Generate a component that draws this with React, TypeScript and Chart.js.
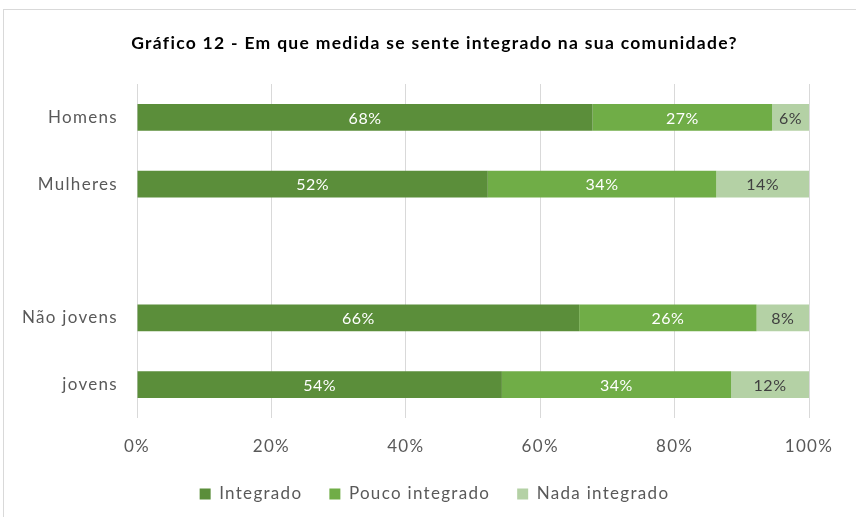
import React, { useEffect, useRef } from "react";
import { Chart, registerables } from "chart.js";

Chart.register(...registerables);

const TITLE = "Gráfico 12 - Em que medida se sente integrado na sua comunidade?";
const categories = ["Homens", "Mulheres", "", "Não jovens", "jovens"];
const integrado = [67.8, 52.2, null, 65.8, 54.3];
const poucoIntegrado = [26.7, 34.0, null, 26.4, 34.1];
const nadaIntegrado = [5.5, 13.8, null, 7.8, 11.6];
const seriesNames = ["Integrado", "Pouco integrado", "Nada integrado"];
const seriesColors = ["#5B8E3A", "#70AD47", "#B4D1A5"];
const labelColors = ["#FFFFFF", "#FFFFFF", "#404040"];
const xTicks = [0, 20, 40, 60, 80, 100];

const FONT = "Lato, 'Open Sans', sans-serif";
const SPACING = "1.3px";
const HEADER_OFFSET = 60;

const spacingPlugin = {
  id: "letterSpacing",
  beforeLayout(chart: any) {
    (chart.ctx as any).letterSpacing = SPACING;
  },
  afterLayout(chart: any) {
    // centre title and legend like the original (shifted right)
    if (chart.titleBlock) chart.titleBlock.left = HEADER_OFFSET;
    if (chart.legend) chart.legend.left = HEADER_OFFSET;
  },
  beforeDraw(chart: any) {
    (chart.ctx as any).letterSpacing = SPACING;
  },
};

const dataLabelPlugin = {
  id: "dataLabels",
  afterDatasetsDraw(chart: any) {
    const ctx = chart.ctx;
    ctx.save();
    (ctx as any).letterSpacing = "0.5px";
    ctx.font = `16px ${FONT}`;
    ctx.textAlign = "center";
    ctx.textBaseline = "middle";
    chart.data.datasets.forEach((ds: any, di: number) => {
      const meta = chart.getDatasetMeta(di);
      meta.data.forEach((bar: any, i: number) => {
        const v = ds.data[i];
        if (v == null) return;
        const cx = (bar.x + bar.base) / 2;
        ctx.fillStyle = labelColors[di];
        ctx.fillText(`${Math.round(v)}%`, cx, bar.y + 1);
      });
    });
    ctx.restore();
  },
};

export default function App() {
  const ref = useRef<HTMLCanvasElement>(null);
  useEffect(() => {
    if (!ref.current) return;
    const chart = new Chart(ref.current, {
      type: "bar",
      data: {
        labels: categories,
        datasets: [integrado, poucoIntegrado, nadaIntegrado].map((d, i) => ({
          label: seriesNames[i],
          data: d as any,
          backgroundColor: seriesColors[i],
          borderWidth: 0,
          categoryPercentage: 1,
          barPercentage: 0.4,
        })),
      },
      options: {
        animation: false,
        responsive: true,
        maintainAspectRatio: false,
        indexAxis: "y",
        layout: { padding: { top: 0, left: 0, right: 47, bottom: 4.5 } },
        scales: {
          x: {
            stacked: true,
            min: 0,
            max: 100,
            afterBuildTicks(scale: any) {
              scale.ticks = xTicks.map((v) => ({ value: v }));
            },
            afterFit(scale: any) {
              scale.height = 40.5;
            },
            grid: { color: "#D9D9D9", lineWidth: 1, drawTicks: false },
            border: { display: false },
            ticks: {
              padding: 18,
              color: "#595959",
              font: { family: FONT, size: 17 },
              callback: (v: any) => `${v}%`,
              maxRotation: 0,
            },
          },
          y: {
            stacked: true,
            afterFit(scale: any) {
              scale.width = 137;
            },
            grid: { display: false },
            border: { display: false },
            ticks: {
              padding: 11,
              color: "#595959",
              font: { family: FONT, size: 17 },
            },
          },
        },
        plugins: {
          title: {
            display: true,
            text: TITLE,
            color: "#000000",
            font: { family: FONT, size: 17.5, weight: "bold" },
            padding: { top: 32.5, bottom: 30.5 },
          },
          legend: {
            position: "bottom",
            labels: {
              boxWidth: 11,
              boxHeight: 11,
              padding: 27,
              color: "#595959",
              font: { family: FONT, size: 17 },
            },
          },
          tooltip: { enabled: false },
        },
      },
      plugins: [spacingPlugin, dataLabelPlugin],
    });
    return () => chart.destroy();
  }, []);

  return (
    <div
      style={{
        position: "absolute",
        left: 0,
        top: 0,
        width: 856,
        height: 517,
        overflow: "hidden",
        background: "#FFFFFF",
      }}
    >
      <div
        style={{
          position: "absolute",
          left: 3,
          top: 9,
          width: 900,
          height: 600,
          border: "1px solid #D9D9D9",
        }}
      />
      <div style={{ position: "absolute", left: 0, top: 0, width: 856, height: 517 }}>
        <canvas ref={ref} />
      </div>
    </div>
  );
}
